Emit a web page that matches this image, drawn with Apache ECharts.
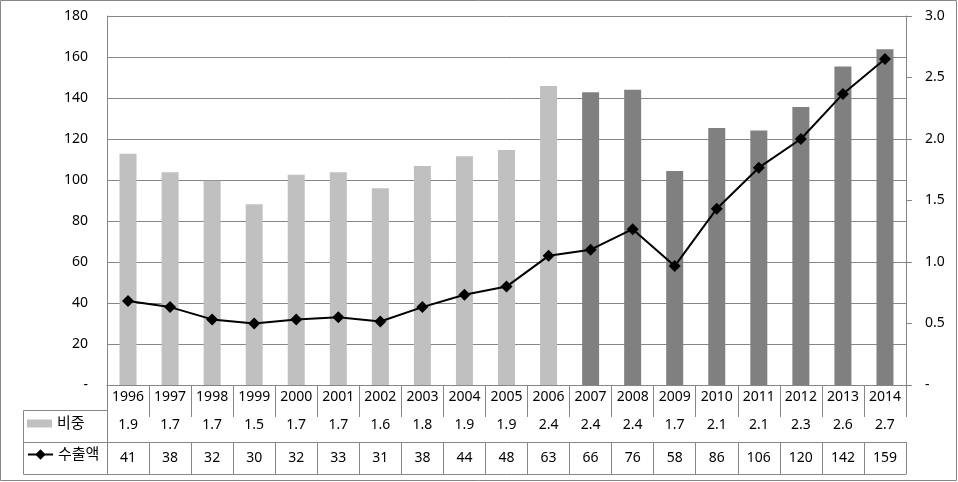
<!DOCTYPE html>
<html>
<head>
<meta charset="utf-8">
<script src="https://cdn.jsdelivr.net/npm/echarts@6/dist/echarts.min.js"></script>
<style>
html,body{margin:0;padding:0;background:#fff;}
#chart{width:958px;height:482px;}
</style>
</head>
<body>
<div id="chart"></div>
<script>
const years = ['1996','1997','1998','1999','2000','2001','2002','2003','2004','2005','2006','2007','2008','2009','2010','2011','2012','2013','2014'];
const shareValues = [1.88,1.73,1.66,1.47,1.71,1.73,1.60,1.78,1.86,1.91,2.43,2.38,2.40,1.74,2.09,2.07,2.26,2.59,2.73];
const exportValues = [41,38,32,30,32,33,31,38,44,48,63,66,76,58,86,106,120,142,159];
const leftTicks = [0,20,40,60,80,100,120,140,160,180];
const rightTicks = [0,0.5,1.0,1.5,2.0,2.5,3.0];
const darkFromYear = '2007';
const shareName = '비중';
const exportName = '수출액';

const GRAY = '#868686';
const LIGHT = '#c0c0c0';
const DARK = '#808080';
const FONT = '"Noto Sans", "Noto Sans CJK KR", sans-serif';

const chart = echarts.init(document.getElementById('chart'));
const darkIdx = years.indexOf(darkFromYear);

function tableAxis(data, offset, tickLen, margin, showLabel) {
  return {
    type: 'category', data: data, position: 'bottom', offset: offset, gridIndex: 0,
    axisLine: {show: true, lineStyle: {color: GRAY, width: 1}},
    axisTick: {show: tickLen > 0, length: tickLen, interval: 0, lineStyle: {color: GRAY, width: 1}},
    axisLabel: {show: showLabel, interval: 0, margin: margin, color: '#000', fontSize: 14, fontFamily: FONT},
    splitLine: {show: false}
  };
}

const option = {
  animation: false,
  backgroundColor: '#fff',
  grid: {left: 107, right: 52, top: 16, height: 369, containLabel: false},
  legend: [
    {data: [shareName], left: 27, top: 416, padding: 0, itemWidth: 25, itemHeight: 8, icon: 'rect',
     selectedMode: false, textStyle: {color: '#000', fontSize: 15, fontFamily: FONT}},
    {data: [exportName], left: 27, top: 447, padding: 0, itemWidth: 25, itemHeight: 13,
     selectedMode: false, textStyle: {color: '#000', fontSize: 15, fontFamily: FONT}}
  ],
  xAxis: [
    tableAxis(years, 0, 25, 5, true),
    tableAxis(shareValues.map(v => v.toFixed(1)), 25, 32, 8, true),
    tableAxis(exportValues.map(v => String(v)), 57, 32, 9, true),
    tableAxis(years.map(() => ''), 89, 0, 0, false)
  ],
  yAxis: [
    {type: 'value', min: leftTicks[0], max: leftTicks[leftTicks.length-1], interval: leftTicks[1]-leftTicks[0],
     position: 'left',
     axisLine: {show: true, lineStyle: {color: GRAY}},
     axisTick: {show: false},
     splitLine: {show: true, lineStyle: {color: GRAY, width: 1}},
     axisLabel: {margin: 19, color: '#000', fontSize: 14, fontFamily: FONT,
       formatter: v => v === 0 ? '-' : String(v)}},
    {type: 'value', min: rightTicks[0], max: rightTicks[rightTicks.length-1], interval: rightTicks[1]-rightTicks[0],
     position: 'right',
     axisLine: {show: true, lineStyle: {color: GRAY}},
     axisTick: {show: true, length: 6, lineStyle: {color: GRAY}},
     splitLine: {show: false},
     axisLabel: {margin: 19, color: '#000', fontSize: 14, fontFamily: FONT, align: 'left',
       formatter: v => v === 0 ? '-' : v.toFixed(1)}}
  ],
  series: [
    {name: shareName, type: 'bar', xAxisIndex: 0, yAxisIndex: 1, barWidth: 17,
     itemStyle: {color: LIGHT},
     data: shareValues.map((v, i) => ({value: v, itemStyle: {color: i >= darkIdx ? DARK : LIGHT}})),
     z: 2},
    {name: exportName, type: 'line', xAxisIndex: 0, yAxisIndex: 0,
     symbol: 'diamond', symbolSize: 12, showSymbol: true,
     lineStyle: {color: '#000', width: 2}, itemStyle: {color: '#000'},
     data: exportValues, z: 5}
  ],
  graphic: [
    {type: 'rect', shape: {x: 0.5, y: 0.5, width: 956, height: 480}, style: {fill: 'none', stroke: GRAY, lineWidth: 1}, silent: true},
    {type: 'rect', shape: {x: 23.5, y: 410.5, width: 84, height: 64}, style: {fill: 'none', stroke: GRAY, lineWidth: 1}, silent: true},
    {type: 'line', shape: {x1: 23.5, y1: 442.5, x2: 107.5, y2: 442.5}, style: {stroke: GRAY, lineWidth: 1}, silent: true}
  ]
};
chart.setOption(option);
</script>
</body>
</html>
